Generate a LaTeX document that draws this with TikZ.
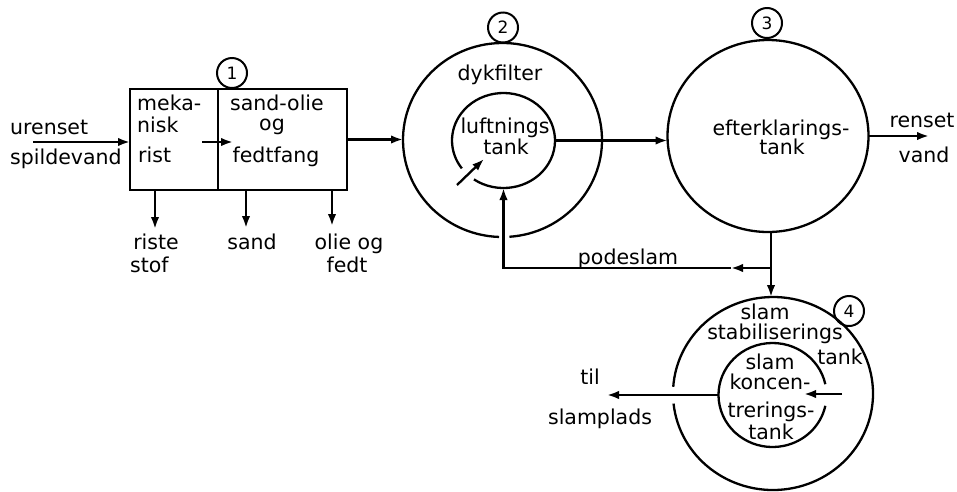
\documentclass[tikz,border=0pt]{standalone}
\usepackage{fontspec}
\setmainfont{DejaVu Sans}
\usetikzlibrary{arrows.meta,shapes.geometric}
\begin{document}
\begin{tikzpicture}[x=1pt,y=1pt,
  ln/.style={line width=2.3pt},
  arr/.style={ln,-{Latex[length=12pt,width=8.5pt]}},
  lbl/.style={inner sep=0pt,text height=15pt,text depth=0pt,font=\fontsize{20.5}{20.5}\selectfont},
  num/.style={draw,circle,line width=2pt,minimum size=30pt,inner sep=0pt,font=\fontsize{17}{17}\selectfont},
  tank/.style={ellipse,inner sep=0pt,outer sep=0pt,draw=none},
  boxn/.style={draw,ln,rectangle,inner sep=0pt,outer sep=0pt,minimum height=101pt,anchor=north west}]
\useasboundingbox (0,0) rectangle (957,-491);
\fill[white] (0,0) rectangle (957,-491);

% boxes
\node[boxn,minimum width=88pt] (rist) at (130,-89) {};
\node[boxn,minimum width=129pt] (fang) at (218,-89) {};

% tanks
\node[tank,minimum width=199pt,minimum height=194pt] (c2o) at (502.5,-140) {};
\node[tank,minimum width=103pt,minimum height=95pt] (c2i) at (503.5,-140.5) {};
\node[tank,draw,ln,minimum width=201pt,minimum height=192pt] (c3) at (768,-136) {};
\node[tank,minimum width=200pt,minimum height=193pt] (c4o) at (773,-393.5) {};
\node[tank,minimum width=108pt,minimum height=104pt] (c4i) at (772.5,-395) {};

\draw[ln] ([shift={(274:99.5pt and 97pt)}]c2o.center) arc[start angle=274,end angle=628,x radius=99.5pt,y radius=97pt];
\draw[ln] ([shift={(235:51.5pt and 47.5pt)}]c2i.center) arc[start angle=235,end angle=576,x radius=51.5pt,y radius=47.5pt];
\draw[ln] ([shift={(186:100pt and 96.5pt)}]c4o.center) arc[start angle=186,end angle=536,x radius=100pt,y radius=96.5pt];
\draw[ln] ([shift={(12:54pt and 52pt)}]c4i.center) arc[start angle=12,end angle=348,x radius=54pt,y radius=52pt];

% number circles
\node[num] (n1) at (232,-73) {1};
\node[num] (n2) at (503,-27.5) {2};
\node[num] (n3) at (767,-23) {3};
\node[num] (n4) at (849,-311) {4};

% coordinates
\coordinate (in) at (33,-142);
\coordinate (ia) at (202,-142);
\coordinate (ib) at (233,-142);
\coordinate (r1) at (155,-229);
\coordinate (r2) at (246,-228);
\coordinate (r3) at (332,-226);
\coordinate (rv) at (929,-137);
\coordinate (j) at (771,-268);
\coordinate (m) at (731,-268);
\coordinate (a1) at (457,-185);
\coordinate (a2) at (484,-159);
\coordinate (a3) at (842,-394);
\coordinate (a4) at (804,-394);
\coordinate (tl) at (607,-395);

% connectors
\draw[arr] (in) -- (in -| rist.west);
\draw[arr] (ia) -- (ib);
\draw[arr] (fang.east) -- (fang.east -| c2o.west);
\draw[arr] (c2i.east) -- (c2i.east -| c3.west);
\draw[arr] (c3.east) -- (c3.east -| rv);
\draw[arr] (j |- c3.south) -- (j |- c4o.north);
\draw[arr] (j) -- (m);
\draw[arr] (m) -| (c2i.south);
\draw[arr] (r1 |- rist.south) -- (r1);
\draw[arr] (r2 |- fang.south) -- (r2);
\draw[arr] (r3 |- fang.south) -- (r3);
\draw[arr] (a1) -- (a2);
\draw[arr] (a3) -- (a4);
\draw[arr] (c4i.west) -- (c4i.west -| tl);

% labels
\node[lbl,anchor=west] (t1) at (10,-127) {urenset};
\node[lbl,anchor=west] (t2) at (10,-157) {spildevand};
\node[lbl,anchor=west] (t3) at (137,-103) {meka-};
\node[lbl,anchor=west] (t4) at (137,-125) {nisk};
\node[lbl,anchor=west] (t5) at (138,-155) {rist};
\node[lbl] (t6) at (277,-103) {sand-olie};
\node[lbl] (t7) at (272,-123) {og};
\node[lbl] (t8) at (276,-155) {fedtfang};
\node[lbl] (t9) at (156,-242) {riste};
\node[lbl,anchor=west] (t10) at (130,-265) {stof};
\node[lbl] (t11) at (252,-242) {sand};
\node[lbl] (t12) at (349,-242) {olie og};
\node[lbl] (t13) at (347,-265) {fedt};
\node[lbl] (t14) at (500,-73) {dykfilter};
\node[lbl] (t15) at (505,-126) {luftnings};
\node[lbl] (t16) at (506,-147) {tank};
\node[lbl] (t17) at (781,-128) {efterklarings-};
\node[lbl] (t18) at (782,-147) {tank};
\node[lbl] (t19) at (922,-120) {renset};
\node[lbl] (t20) at (924,-155) {vand};
\node[lbl] (t21) at (628,-257) {podeslam};
\node[lbl] (t22) at (765,-312) {slam};
\node[lbl] (t23) at (775,-332) {stabiliserings};
\node[lbl] (t24) at (840,-357) {tank};
\node[lbl] (t25) at (770,-362) {slam};
\node[lbl] (t26) at (770,-382) {koncen-};
\node[lbl] (t27) at (771,-410) {trerings-};
\node[lbl] (t28) at (771,-432) {tank};
\node[lbl] (t29) at (590,-377) {til};
\node[lbl] (t30) at (600,-417) {slamplads};
\end{tikzpicture}
\end{document}
